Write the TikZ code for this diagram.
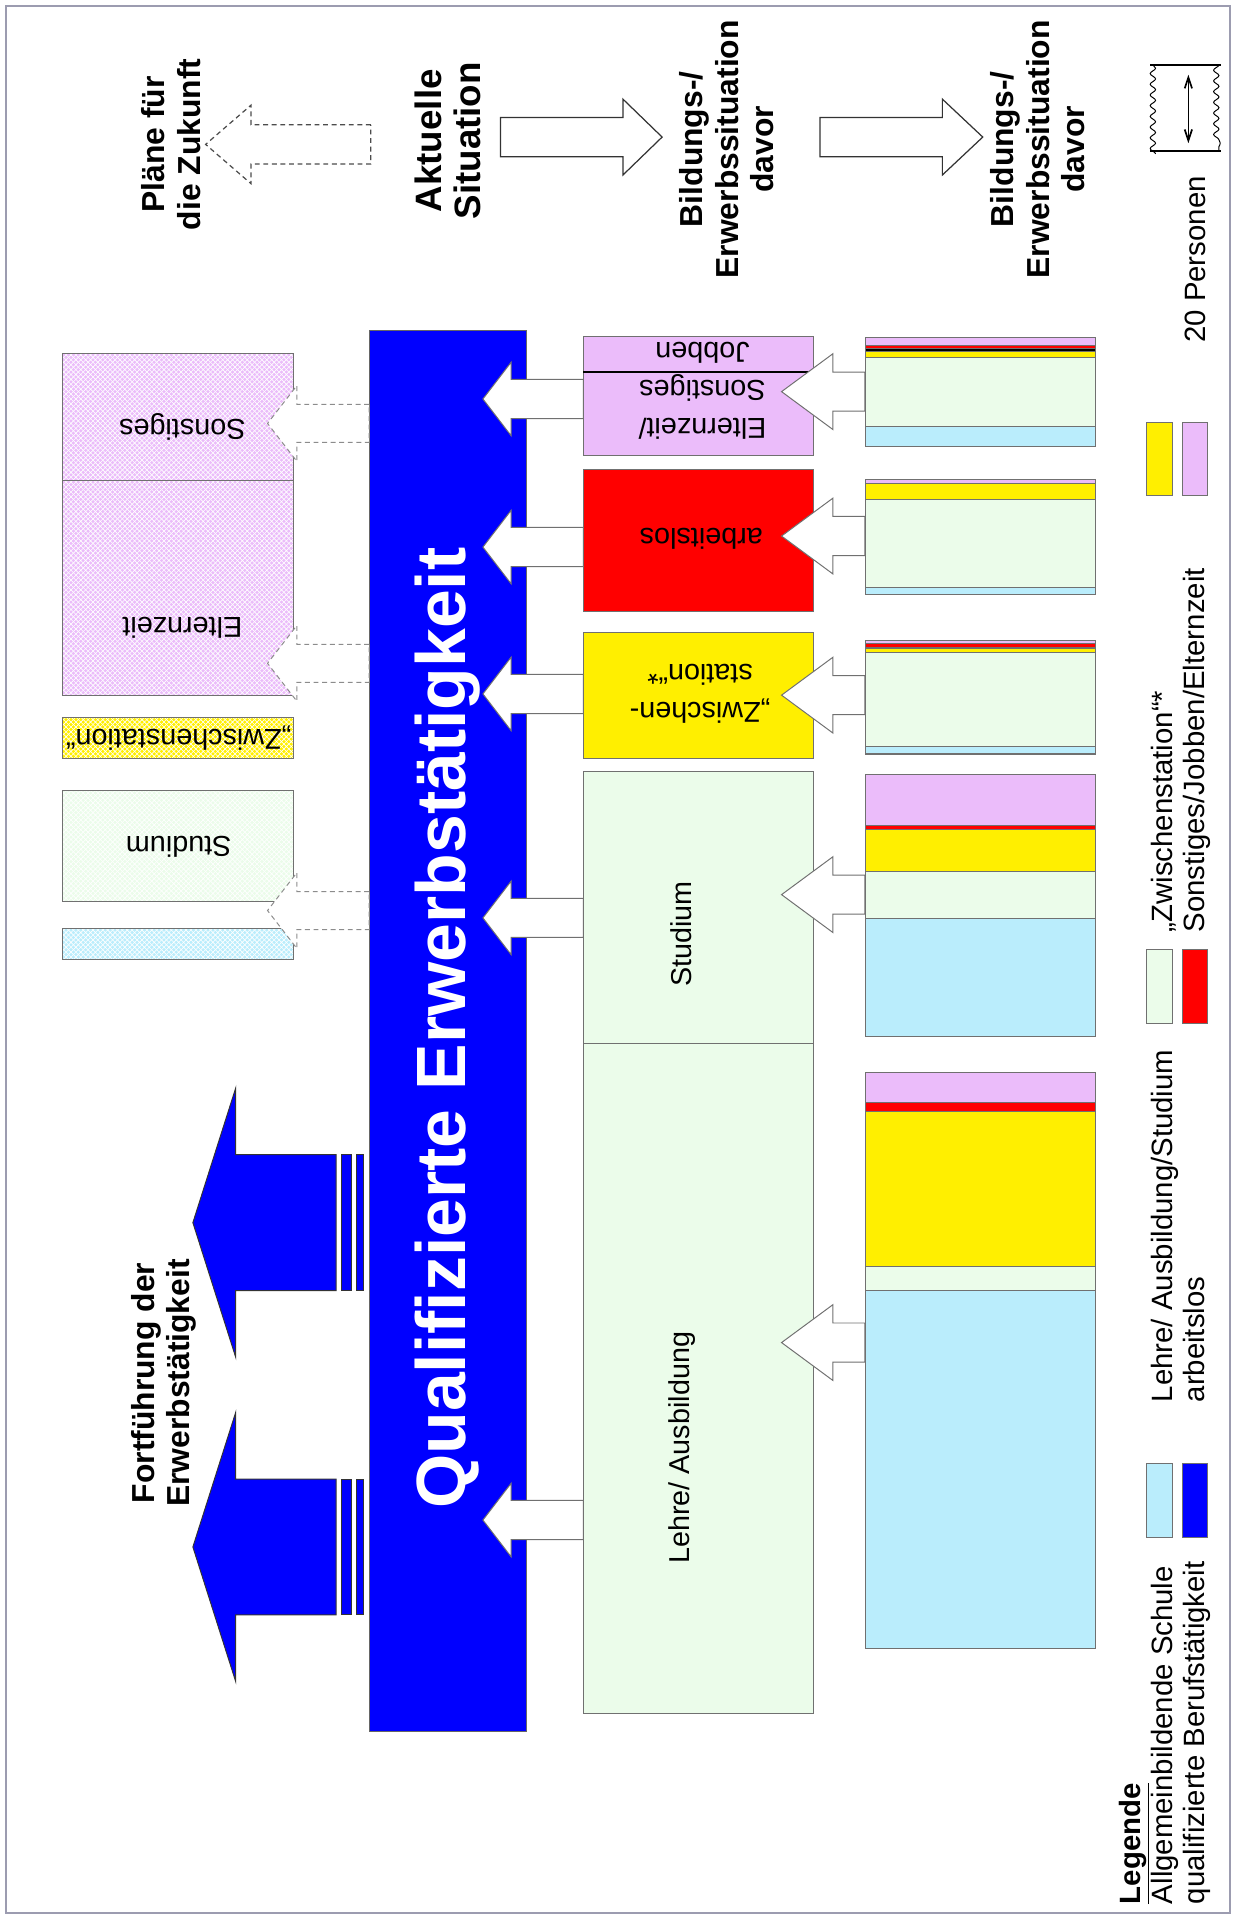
\documentclass[tikz,border=0pt]{standalone}
\usepackage{fontspec}
\setmainfont{Liberation Sans}
\usetikzlibrary{arrows.meta,calc,patterns.meta,decorations.pathmorphing}
\definecolor{qualBlue}{HTML}{0000FF}
\definecolor{elterLilac}{HTML}{EBBCFA}
\definecolor{losRed}{HTML}{FF0000}
\definecolor{zwYellow}{HTML}{FFEF00}
\definecolor{ausbGreen}{HTML}{EBFCEA}
\definecolor{schulBlue}{HTML}{BAEDFC}
\definecolor{edgeGrey}{HTML}{707070}
\definecolor{frameGrey}{HTML}{9C9CB0}

% white diagonal mesh laid over the planned boxes
\tikzdeclarepattern{
  name=mesh,
  type=uncolored,
  bottom left={(-.5pt,-.5pt)},
  top right={(4.5pt,4.5pt)},
  tile size={(4pt,4pt)},
  code={\draw[line width=.5pt] (0pt,0pt) -- (4pt,4pt) (0pt,4pt) -- (4pt,0pt);}
}

% flat block arrow: style, tail, head base offset, tip offset, half head, half shaft
\newcommand\blockarrow[6]{%
  \path[#1] ($(#2)+(0,-#6)$) -- ($(#2)+(#3,-#6)$) -- ($(#2)+(#3,-#5)$)
    -- ($(#2)+(#4,0)$) -- ($(#2)+(#3,#5)$) -- ($(#2)+(#3,#6)$)
    -- ($(#2)+(0,#6)$) -- cycle;}

% stacked bar of earlier situations: name, top, bottom, layers
\newcommand\stackbar[4]{%
  \foreach \ya/\yb/\col in {#4}
    \filldraw[layer, fill=\col] (707,\ya) rectangle (895,\yb);
  \node[barframe, minimum height={#3-#2}] (#1) at (801,{(#2+#3)/2}) {};}

\begin{document}
\begin{tikzpicture}[x=1pt,y=-1pt,
  headtext/.style={rotate=90, align=center, inner sep=0, font=\bfseries\fontsize{26}{29}\selectfont},
  boxlabel/.style={align=center, inner sep=0, font=\fontsize{23.5}{31}\selectfont},
  legtext/.style={rotate=90, anchor=base west, inner sep=0, font=\fontsize{24}{26}\selectfont},
  curbox/.style={draw=edgeGrey, line width=.8, minimum width=188, inner sep=0},
  planbox/.style={minimum width=189, inner sep=0,
    postaction={pattern=mesh, pattern color=white},
    postaction={draw=edgeGrey, line width=.8}},
  layer/.style={draw=edgeGrey, line width=.5},
  barframe/.style={draw=edgeGrey, line width=.8, minimum width=188, inner sep=0},
  swatch/.style={draw=edgeGrey, line width=.8, minimum width=21, minimum height=60, inner sep=0},
  hollow/.style={fill=white, draw=black!80, line width=1},
  hollowdash/.style={hollow, draw=black!70, dash pattern=on 4pt off 3pt},
  passarrow/.style={fill=white, draw=edgeGrey, line width=.8},
  planarrow/.style={fill=white, draw=black!45, line width=.8, dash pattern=on 4pt off 3pt},
  fwdarrow/.style={fill=qualBlue, draw=black!80, line width=.8}]
\useasboundingbox (0,0) rectangle (1011,1568);
\draw[frameGrey, line width=1.2] (5,5) rectangle (1005,1563);

% column headings
\node[headtext] (hPlan) at (140,118) {Pläne für\\die Zukunft};
\node[headtext, font=\bfseries\fontsize{30}{32}\selectfont] (hNow) at (366,115) {Aktuelle\\Situation};
\node[headtext] (hPrevA) at (594,122) {Bildungs-/\\Erwerbssituation\\davor};
\node[headtext] (hPrevB) at (848,122) {Bildungs-/\\Erwerbssituation\\davor};
\coordinate (hdPlan) at (303,118);
\coordinate (hdPrevA) at (409,112);
\coordinate (hdPrevB) at (670,112);
\blockarrow{hollowdash}{hdPlan}{-98}{-135}{32}{16}
\blockarrow{hollow}{hdPrevA}{100}{132}{31}{16}
\blockarrow{hollow}{hdPrevB}{100}{133}{31}{16}

% 20 persons scale
\draw[line width=1.6] (940,53) -- (998,53) (940,123) -- (998,123);
\draw[line width=.8, decorate, decoration={snake, segment length=8.75, amplitude=2.2}]
  (942,53) -- (942,123) (996,53) -- (996,123);
\draw[line width=1.4, {Straight Barb[length=9pt,width=6pt]}-{Straight Barb[length=9pt,width=6pt]}]
  (971,61) -- (971,117);
\node[legtext, anchor=base] (scaleLbl) at (985,212) {20 Personen};

% qualified employment
\node[fill=qualBlue, draw=black!60, line width=.8, minimum width=128, minimum height=1145, inner sep=0] (qual) at (366,842.5) {};

% current situation
\node[curbox, fill=elterLilac, minimum height=97] (curJ) at (571,323.5) {};
\draw[line width=1] (curJ.west |- 0,304) -- (curJ.east |- 0,304);
\node[curbox, fill=losRed, minimum height=116] (curA) at (571,442) {};
\node[curbox, fill=zwYellow, minimum height=103] (curZ) at (571,568.5) {};
\node[curbox, fill=ausbGreen, minimum height=223] (curS) at (571,741.5) {};
\node[curbox, fill=ausbGreen, minimum height=547] (curL) at (571,1126.5) {};

% situation before
\stackbar{prevJ}{276}{365}{276/282/elterLilac, 282/285/losRed, 285/287/black, 287/292/zwYellow, 292/348/ausbGreen, 348/365/schulBlue}
\stackbar{prevA}{392}{486}{392/395/elterLilac, 395/408/zwYellow, 408/480/ausbGreen, 480/486/schulBlue}
\stackbar{prevZ}{523}{616}{523/526/elterLilac, 526/528.5/losRed, 528.5/530/black, 530/533/zwYellow, 533/610/ausbGreen, 610/616/schulBlue}
\stackbar{prevS}{633}{847}{633/674/elterLilac, 674/678/losRed, 678/712/zwYellow, 712/750/ausbGreen, 750/847/schulBlue}
\stackbar{prevL}{876}{1347}{876/901/elterLilac, 901/908/losRed, 908/1035/zwYellow, 1035/1054/ausbGreen, 1054/1347/schulBlue}

% plans
\node[planbox, fill=elterLilac, minimum height=104] (planS) at (145.5,341) {};
\node[planbox, fill=elterLilac, minimum height=175] (planE) at (145.5,480.5) {};
\node[planbox, fill=zwYellow, minimum height=34] (planZ) at (145.5,603) {};
\node[planbox, fill=ausbGreen, minimum height=91] (planSt) at (145.5,691.5) {};
\node[planbox, fill=schulBlue, minimum height=25] (planSch) at (145.5,771.5) {};

% earlier situation -> current situation
\foreach \b/\y in {J/320, A/438, Z/568, S/731, L/1097} {
  \coordinate (t) at (prev\b.west |- 0,\y);
  \blockarrow{passarrow}{t}{-26}{-68}{31}{16}
}
% current situation -> qualified employment
\foreach \b/\y in {J/326, A/447, Z/567, S/750, L/1242} {
  \coordinate (t) at (cur\b.west |- 0,\y);
  \blockarrow{passarrow}{t}{-59}{-82}{30}{16}
}
% qualified employment -> plans
\foreach \y in {346, 542, 744} {
  \coordinate (t) at (qual.west |- 0,\y);
  \blockarrow{planarrow}{t}{-59}{-83}{31}{15.5}
}
% continuing employment
\foreach \y in {999, 1264} {
  \path (qual.west |- 0,\y) coordinate (f) ++(-27,0) coordinate (t);
  \blockarrow{fwdarrow}{t}{-82}{-117}{110}{55.5}
  \filldraw[fwdarrow] ($(f)+(-22.5,-55.5)$) rectangle ($(f)+(-14,55.5)$)
    ($(f)+(-10,-55.5)$) rectangle ($(f)+(-4.5,55.5)$);
}

% labels
\node[headtext, text=white, font=\bfseries\fontsize{57}{60}\selectfont] (qualLbl) at (366,840) {Qualifizierte Erwerbstätigkeit};
\node[headtext] (fwdLbl) at (134,1130) {Fortführung der\\Erwerbstätigkeit};
\node[boxlabel, rotate=180] (lblJ) at (574,319) {Elternzeit/\\Sonstiges\\Jobben};
\node[boxlabel, rotate=180] (lblA) at (573,440) {arbeitslos};
\node[boxlabel, rotate=180] (lblZ) at (572,567) {„Zwischen-\\station“*};
\node[boxlabel, rotate=90] (lblS) at (557,763) {Studium};
\node[boxlabel, rotate=90] (lblL) at (557,1183) {Lehre/ Ausbildung};
\node[boxlabel, rotate=180] (planLblS) at (149,349) {Sonstiges};
\node[boxlabel, rotate=180] (planLblE) at (149,513) {Elternzeit};
\node[boxlabel, rotate=180] (planLblZ) at (146,603) {„Zwischenstation“};
\node[boxlabel, rotate=180] (planLblSt) at (146,692) {Studium};

% legend
\node[legtext] (legHead) at (932,1556) {\bfseries\underline{Legende}};
\node[legtext] (legSchule) at (958,1556) {Allgemeinbildende Schule};
\node[legtext] (legQual) at (984,1556) {qualifizierte Berufstätigkeit};
\node[swatch, fill=schulBlue] (swSchule) at (947.5,1226) {};
\node[swatch, fill=qualBlue] (swQual) at (976.5,1226) {};
\node[legtext] (legAusb) at (958,1146) {Lehre/ Ausbildung/Studium};
\node[legtext] (legLos) at (984,1146) {arbeitslos};
\node[swatch, fill=ausbGreen] (swAusb) at (947.5,806) {};
\node[swatch, fill=losRed] (swLos) at (976.5,806) {};
\node[legtext] (legZw) at (958,762) {„Zwischenstation“*};
\node[legtext] (legSonst) at (984,762) {Sonstiges/Jobben/Elternzeit};
\node[swatch, fill=zwYellow] (swZw) at (947.5,375) {};
\node[swatch, fill=elterLilac] (swSonst) at (976.5,375) {};
\end{tikzpicture}
\end{document}
